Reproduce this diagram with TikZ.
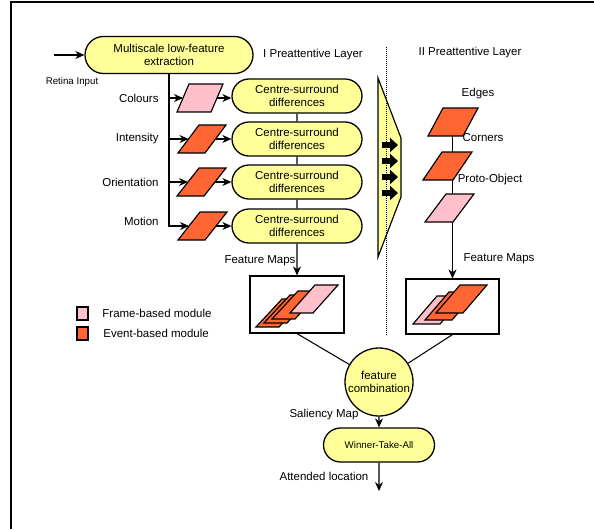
\documentclass[tikz,border=0pt]{standalone}
\usepackage{fontspec}
\setmainfont{Liberation Sans}
\usetikzlibrary{arrows.meta,calc,shapes.misc,backgrounds}
\definecolor{paleyellow}{RGB}{255,255,153}
\definecolor{framepink}{RGB}{255,192,203}
\definecolor{eventorange}{RGB}{255,102,51}
\tikzset{>={Stealth[length=2.7mm,width=2.4mm]}}
\tikzset{
  stage/.style = {rounded rectangle, draw, line width=1.1pt, fill=paleyellow,
    align=center, inner sep=0pt},
  mapbox/.style = {draw, line width=1pt, inner sep=0pt},
  plgline/.style = {draw, line width=1pt, line join=miter},
  legendsq/.style = {draw, line width=1pt, inner sep=0pt,
    minimum width=0.33cm, minimum height=0.39cm},
  smalltxt/.style = {font=\fontsize{8.3}{10}\selectfont}
}
% parallelogram: name, bottom-left, width, slant, fill
\newcommand{\plg}[5]{%
  \draw[plgline,fill=#5] #2 -- ++(#3,0) -- ++(#4,-28) -- ++(-#3,0) -- cycle;
  \coordinate (#1-w) at ($#2+(#4/2,-14)$);
  \coordinate (#1-e) at ($#2+(#3+#4/2,-14)$);
  \coordinate (#1-c) at ($#2+(#3/2+#4/2,-14)$);
}

\begin{document}
\begin{tikzpicture}[x=0.03cm,y=-0.03cm,line width=0.9pt,
    font=\fontsize{9.8}{11.5}\selectfont]
  \useasboundingbox (0,0) rectangle (594,529);
  % frame
  \draw[line width=1.1pt] (11,529) -- (11,2) -- (594,2);

  % input stage
  \node[stage, minimum width=5.04cm, minimum height=1.11cm] (extract) at (169,55)
    {Multiscale low-feature\\extraction};
  \coordinate (retina) at (54,55);
  \draw[->] (retina) -- (extract.west);
  \node[smalltxt] (retinatxt) at (72,82) {Retina Input};
  \node (layer1) at (313,55) {I Preattentive Layer};
  \node (layer2) at (470,53) {II Preattentive Layer};

  % first layer
  \plg{pcol}{(177,112)}{34}{12}{framepink}
  \plg{pint}{(178,153)}{27}{21}{eventorange}
  \plg{pori}{(177,196)}{27}{22}{eventorange}
  \plg{pmot}{(178,240)}{27}{22}{eventorange}
  \node[anchor=east] (coltxt) at (163,98) {Colours};
  \node[anchor=east] (inttxt) at (163,139) {Intensity};
  \node[anchor=east] (oritxt) at (163,182) {Orientation};
  \node[anchor=east] (mottxt) at (163,221) {Motion};
  \draw[->] (extract.south) |- (pmot-w);
  \foreach \p in {pcol,pint,pori}
    \draw[->] (extract.south |- \p-w) -- (\p-w);

  \foreach \i/\y/\p in {1/96/pcol,2/139/pint,3/182/pori,4/226/pmot} {
    \node[stage, minimum width=3.9cm, minimum height=1.02cm] (cs\i) at (297,\y)
      {Centre-surround\\differences};
    \draw[->] (\p-e) -- (\p-e -| cs\i.west);
  }
  \draw (cs1) -- (cs2);
  \draw (cs2) -- (cs3);
  \draw (cs3) -- (cs4);

  % feature maps, left
  \node[mapbox, minimum width=2.82cm, minimum height=1.71cm] (lbox) at (297,304.5) {};
  \draw[->] (cs4) -- (lbox);
  \node (fmleft) at (260,261) {Feature Maps};
  \plg{la}{(256,327)}{23}{26}{eventorange}
  \plg{lb}{(264,323)}{23}{26}{eventorange}
  \plg{lc}{(272,319)}{23}{26}{eventorange}
  \plg{ld}{(290,313)}{23}{25}{framepink}

  % funnel
  \draw[fill=paleyellow, line width=1pt] (378,78) -- (401,138) -- (401,197)
    -- (378,257) -- cycle;
  \foreach \y in {145,161,177,193}
    \draw[line width=0.2cm, -{Triangle[length=0.24cm,width=0.42cm]}] (382,\y) -- (398,\y);
  \draw[densely dotted, line width=0.7pt] (386,47) -- (386,335);

  % second layer
  \plg{pedg}{(428,136)}{35}{15}{eventorange}
  \plg{pcor}{(423,180)}{30}{19}{eventorange}
  \plg{ppro}{(425,222)}{28}{21}{framepink}
  \node (edgtxt) at (478,94) {Edges};
  \node (cortxt) at (483,138) {Corners};
  \node (protxt) at (490,180) {Proto-Object};

  % feature maps, right
  \node[mapbox, minimum width=2.79cm, minimum height=1.65cm] (rbox) at (452.5,306.5) {};
  \node (fmright) at (499,259) {Feature Maps};
  \plg{ra}{(413,324)}{27}{24}{framepink}
  \plg{rb}{(425,320)}{27}{24}{eventorange}
  \plg{rc}{(436,313)}{27}{24}{eventorange}
  \begin{scope}[on background layer]
    \draw[->] (rbox.north |- pedg-c) -- (rbox.north);
  \end{scope}

  % combination and selection
  \node[circle, draw, fill=paleyellow, line width=1.1pt, minimum size=2.04cm,
    inner sep=0pt, align=center] (fc) at (379,382) {feature\\combination};
  \draw (lbox.south) -- (fc);
  \draw (rbox.south) -- (fc);
  \node[stage, smalltxt, minimum width=3.33cm, minimum height=1.02cm] (wta) at (379,445)
    {Winner-Take-All};
  \draw[->] (fc) -- (wta);
  \node (saltxt) at (324,415) {Saliency Map};
  \coordinate (attended) at (379,491);
  \draw[->] (wta) -- (attended);
  \node (atttxt) at (324,476) {Attended location};

  % legend
  \node[legendsq, fill=framepink] (lgframe) at (82.5,313.5) {};
  \node[legendsq, fill=eventorange] (lgevent) at (82.5,333.5) {};
  \node[anchor=west] (lgframetxt) at (98,313) {Frame-based module};
  \node[anchor=west] (lgeventtxt) at (99,333) {Event-based module};
\end{tikzpicture}
\end{document}
